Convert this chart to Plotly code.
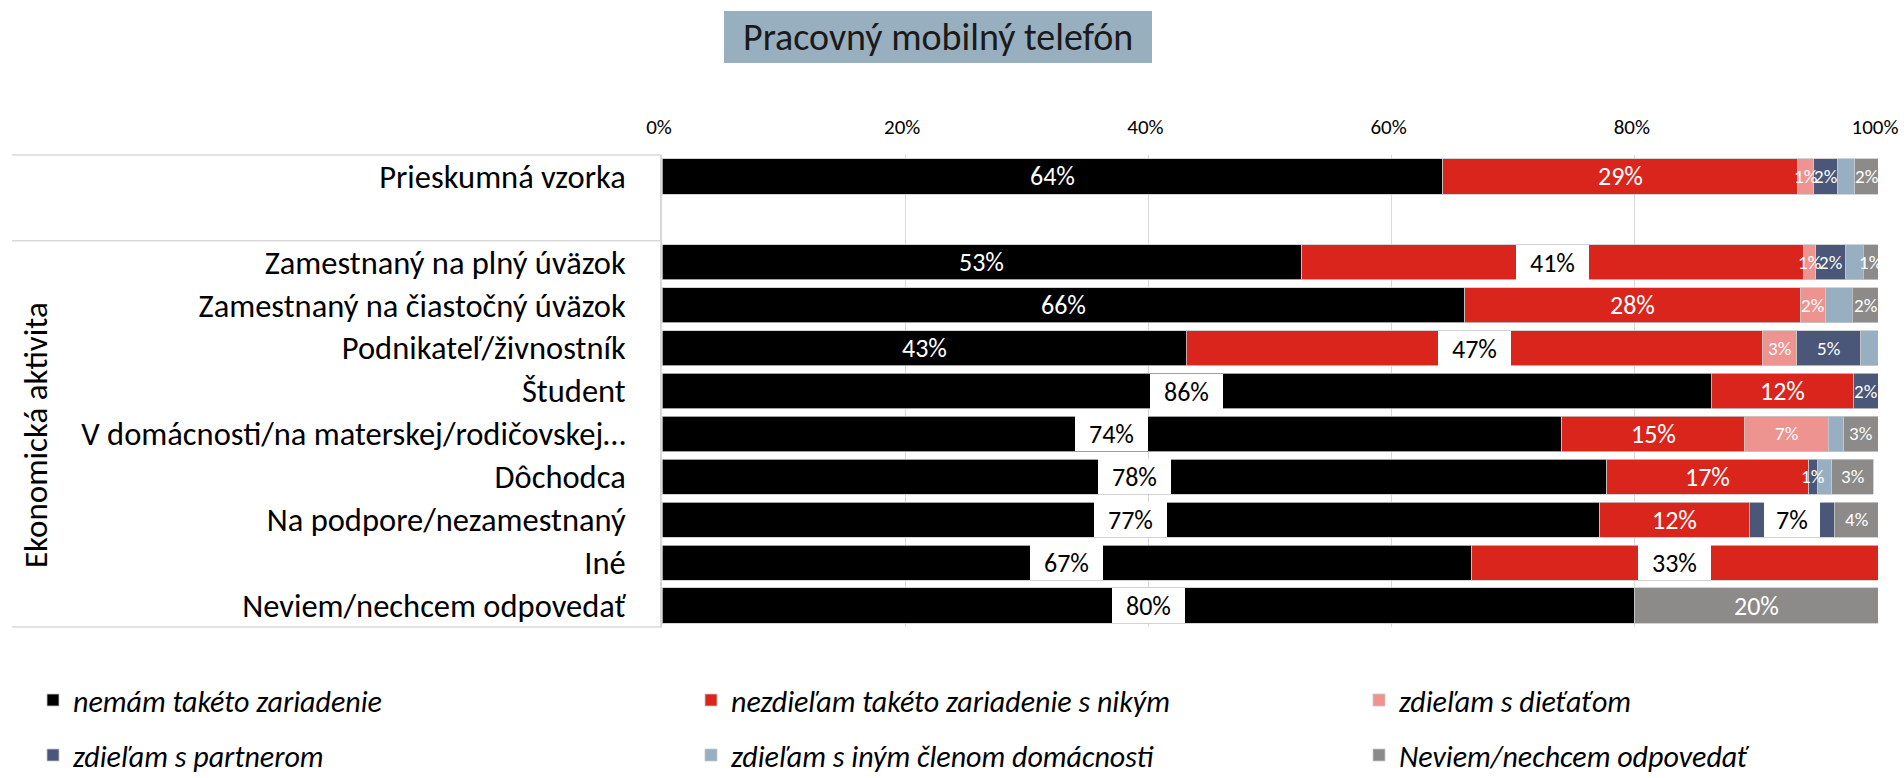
import plotly.graph_objects as go

# ---------------- data ----------------
categories = [
    "Prieskumná vzorka",
    " ",
    "Zamestnaný na plný úväzok",
    "Zamestnaný na čiastočný úväzok",
    "Podnikateľ/živnostník",
    "Študent",
    "V domácnosti/na materskej/rodičovskej…",
    "Dôchodca",
    "Na podpore/nezamestnaný",
    "Iné",
    "Neviem/nechcem odpovedať",
]

series_names = [
    "nemám takéto zariadenie",
    "nezdieľam takéto zariadenie s nikým",
    "zdieľam s dieťaťom",
    "zdieľam s partnerom",
    "zdieľam s iným členom domácnosti",
    "Neviem/nechcem odpovedať",
]

nemam = [64.2, None, 52.6, 66.0, 43.1, 86.3, 74.0, 77.7, 77.1, 66.6, 80.0]
nezdielam = [29.2, None, 41.3, 27.6, 47.4, 11.7, 15.0, 16.6, 12.3, 33.4, None]
dieta = [1.3, None, 1.0, 2.1, 2.8, None, 6.9, None, None, None, None]
partner = [2.0, None, 2.4, None, 5.3, 2.0, None, 0.7, 7.0, None, None]
iny_clen = [1.4, None, 1.5, 2.2, 1.4, None, 1.3, 1.2, None, None, None]
neviem = [1.9, None, 1.2, 2.1, None, None, 2.8, 3.4, 3.6, None, 20.0]

series_values = [nemam, nezdielam, dieta, partner, iny_clen, neviem]

x_ticks = [0, 20, 40, 60, 80, 100]
x_ticktext = [f"{v}%" for v in x_ticks]

title_text = "Pracovný mobilný telefón"
group_title = "Ekonomická aktivita"

# ---------------- style ----------------
FONT = "Calibri, Carlito, Lato, sans-serif"
colors = ["#000000", "#DA251D", "#EE9490", "#4A5778", "#97AFC0", "#8C8B89"]
legend_ids = ["legend", "legend2", "legend3", "legend", "legend2", "legend3"]
label_series = [True, True, True, True, False, True]
# labels drawn in a white box (row index, series index)
boxed = {(2, 1), (4, 1), (5, 0), (6, 0), (7, 0), (8, 0), (8, 3), (9, 0), (9, 1), (10, 0)}

W, H = 1904, 778
ML, MR, MT, MB = 662, 26, 155, 151
PW = W - ML - MR
PH = H - MT - MB


def px_to_paper_x(px):
    return (px - ML) / PW


def px_to_paper_y(py):
    return (H - MB - py) / PH


fig = go.Figure()
for name, vals, col, lg in zip(series_names, series_values, colors, legend_ids):
    fig.add_trace(go.Bar(
        y=categories, x=vals, name=name, orientation="h",
        marker=dict(color=col, line=dict(color="#C8C8C8", width=0.8)),
        legend=lg, legendgroup=name, hoverinfo="x+y+name",
    ))

# data labels computed from the stacked values
annotations = []
for r, cat in enumerate(categories):
    cum = 0.0
    for s, vals in enumerate(series_values):
        v = vals[r]
        if v is None:
            continue
        mid = cum + v / 2
        cum += v
        if not label_series[s]:
            continue
        txt = f"{round(v):.0f}%"
        is_box = (r, s) in boxed
        big = is_box or v >= 10 or s == 0
        if is_box:
            annotations.append(dict(
                x=mid, y=cat, xref="x", yref="y", text=txt, showarrow=False,
                font=dict(family=FONT, size=26, color="#000000"),
                bgcolor="#FFFFFF", borderpad=0, borderwidth=0,
                width=17 * len(txt) + 22, height=35, valign="middle",
            ))
        else:
            annotations.append(dict(
                x=mid, y=cat, xref="x", yref="y", text=txt, showarrow=False,
                font=dict(family=FONT, size=26 if big else 19, color="#FFFFFF"),
            ))

# title box
annotations.append(dict(
    x=px_to_paper_x(938), y=px_to_paper_y(37), xref="paper", yref="paper",
    text=title_text, showarrow=False, xanchor="center", yanchor="middle",
    font=dict(family=FONT, size=38, color="#1A1A1A"),
))
# group title (rotated)
annotations.append(dict(
    x=px_to_paper_x(36), y=px_to_paper_y(435), xref="paper", yref="paper",
    text=group_title, showarrow=False, textangle=-90,
    xanchor="center", yanchor="middle",
    font=dict(family=FONT, size=33, color="#000000"),
))

shapes = [
    dict(type="rect", xref="paper", yref="paper",
         x0=px_to_paper_x(724), x1=px_to_paper_x(1152),
         y0=px_to_paper_y(63), y1=px_to_paper_y(11),
         fillcolor="#98AFC0", line=dict(width=0), layer="below"),
    dict(type="line", xref="paper", yref="paper",
         x0=px_to_paper_x(12), x1=0, y0=1, y1=1,
         line=dict(color="#D9D9D9", width=1.5)),
    dict(type="line", xref="paper", yref="paper",
         x0=px_to_paper_x(12), x1=0, y0=0, y1=0,
         line=dict(color="#D9D9D9", width=1.5)),
    dict(type="line", xref="paper", yref="y",
         x0=px_to_paper_x(12), x1=0, y0=1.5, y1=1.5,
         line=dict(color="#D9D9D9", width=1.5)),
]

legend_common = dict(
    orientation="v", yanchor="top", xanchor="left",
    font=dict(family=FONT, size=30, color="#000000", style="italic"),
    tracegroupgap=13, bgcolor="rgba(0,0,0,0)", itemclick=False,
)
ly = px_to_paper_y(674)

fig.update_layout(
    width=W, height=H,
    margin=dict(l=ML, r=MR, t=MT, b=MB, autoexpand=False),
    barmode="stack", bargap=0.18,
    plot_bgcolor="#FFFFFF", paper_bgcolor="#FFFFFF",
    font=dict(family=FONT, color="#000000"),
    xaxis=dict(
        side="top", range=[0, 100], tickvals=x_ticks, ticktext=x_ticktext,
        showgrid=True, gridcolor="#D9D9D9", gridwidth=1.3,
        zeroline=False, showline=False, ticks="",
        tickfont=dict(family=FONT, size=21, color="#000000"),
        ticklabelstandoff=16, ticklabelshift=-3, fixedrange=True,
    ),
    yaxis=dict(
        type="category", categoryorder="array", categoryarray=categories,
        autorange="reversed", showgrid=False, zeroline=False,
        showline=True, linecolor="#D9D9D9", linewidth=1.5, ticks="",
        tickfont=dict(family=FONT, size=32.5, color="#000000"),
        ticklabelstandoff=28, fixedrange=True,
    ),
    showlegend=True,
    legend=dict(x=px_to_paper_x(33), y=ly, **legend_common),
    legend2=dict(x=px_to_paper_x(691), y=ly, **legend_common),
    legend3=dict(x=px_to_paper_x(1359), y=ly, **legend_common),
    annotations=annotations,
    shapes=shapes,
)

fig.write_html(
    "out.html",
    config={"displayModeBar": False},
    post_script="document.body.style.margin='0px';document.body.style.overflow='hidden';",
)
